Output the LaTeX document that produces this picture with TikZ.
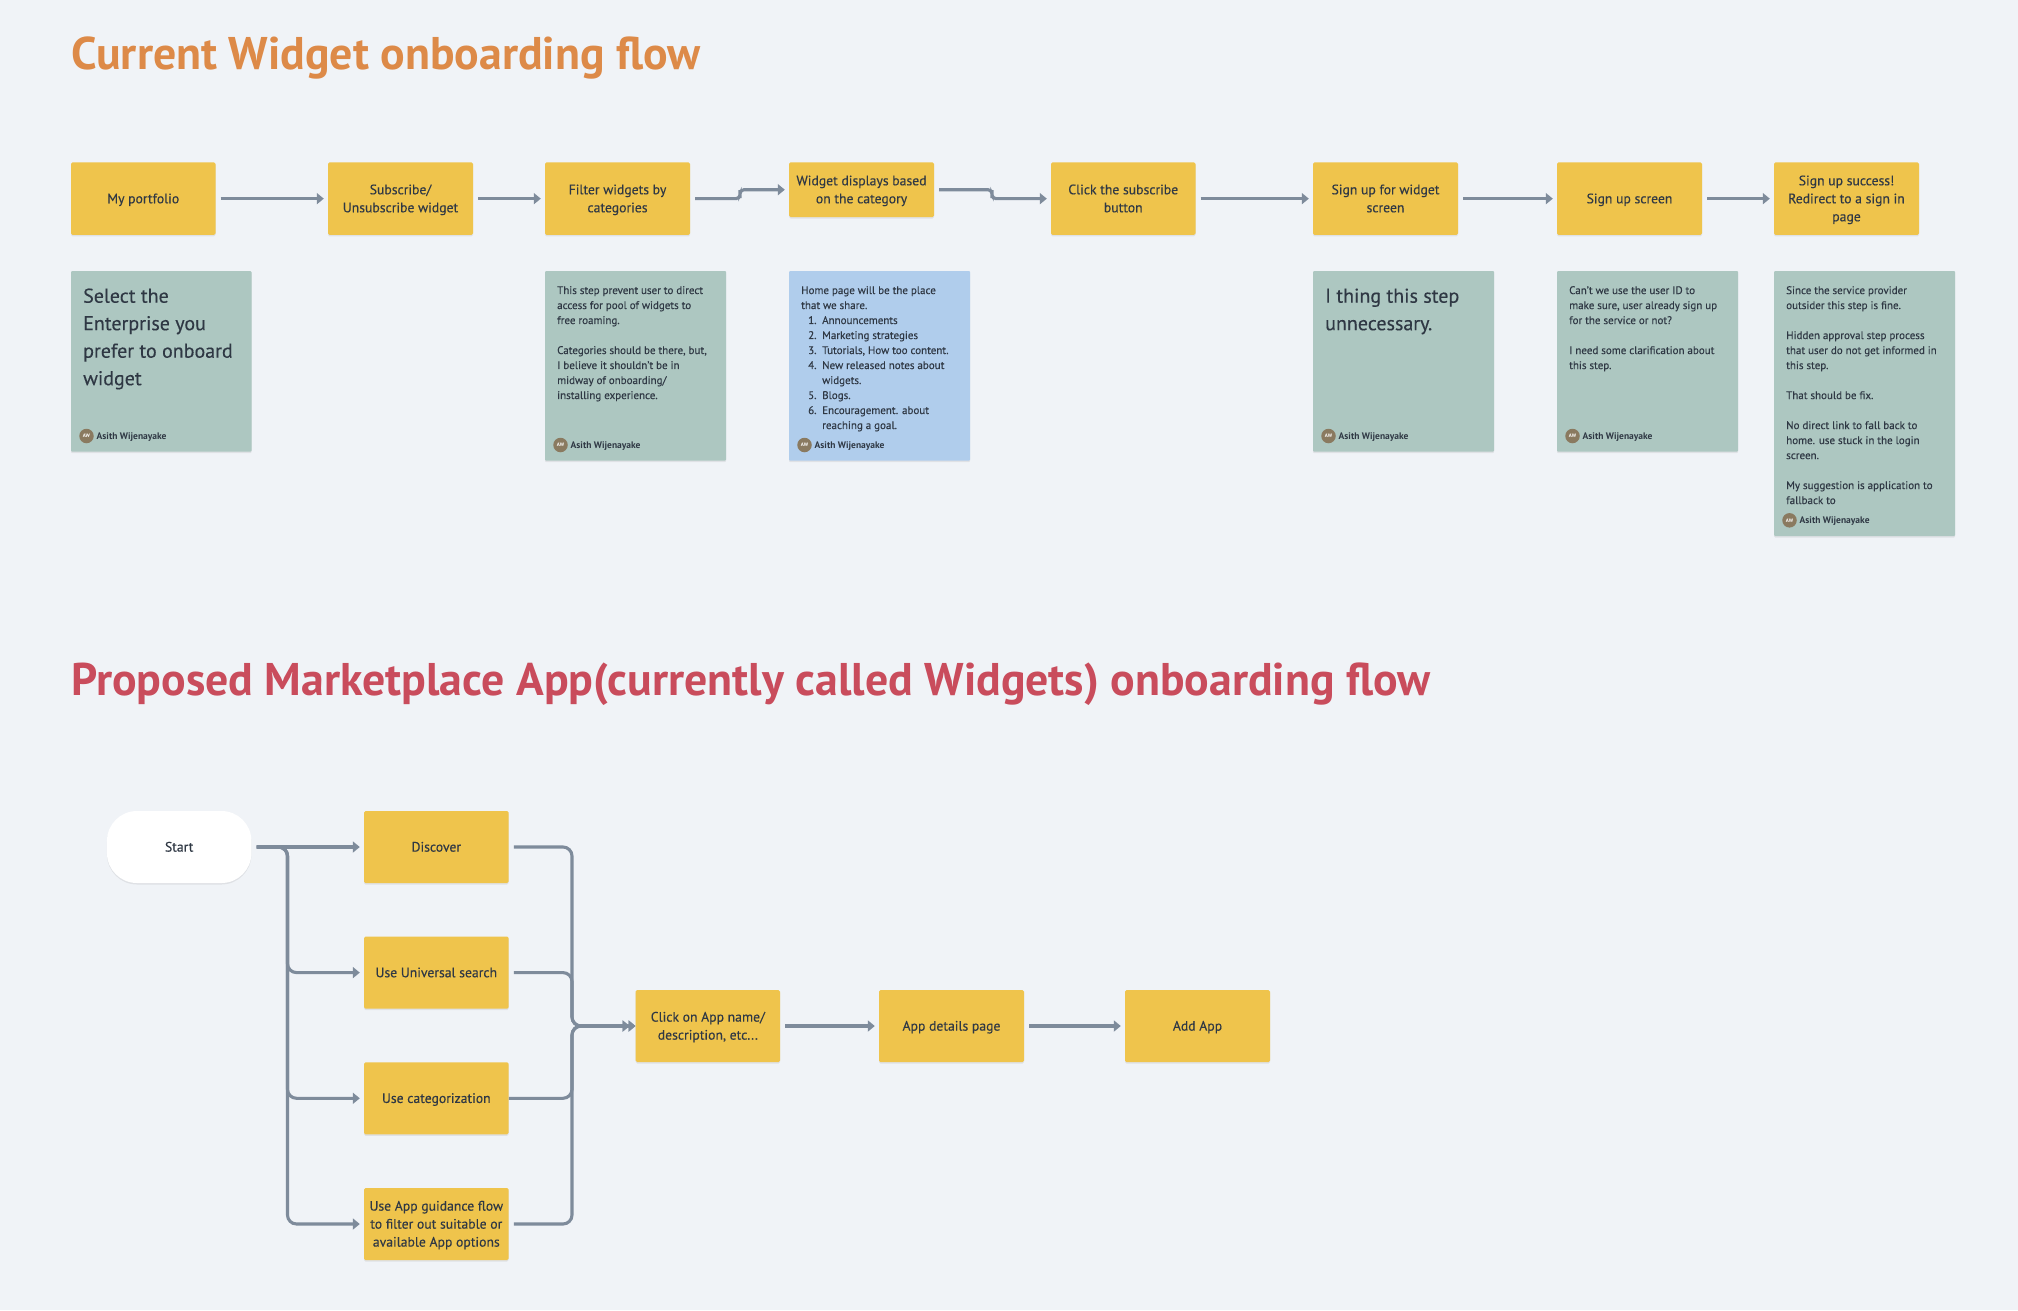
\documentclass[tikz,border=0pt]{standalone}
\usepackage{fontspec}
\setmainfont[UprightFeatures={FakeBold=0.25}]{PT Sans}
\usetikzlibrary{arrows.meta,shadows,calc}
\definecolor{bgc}{HTML}{F0F3F7}
\definecolor{yel}{HTML}{EFC44C}
\definecolor{grn}{HTML}{ADC7C1}
\definecolor{blu}{HTML}{B0CDEC}
\definecolor{ttlo}{HTML}{DD8A48}
\definecolor{ttlr}{HTML}{C94C5C}
\definecolor{ink}{HTML}{2F3844}
\definecolor{lin}{HTML}{7E8B9B}
\definecolor{ava}{HTML}{8A7A60}
\tikzset{
  softshadow/.style={drop shadow={shadow xshift=0pt,shadow yshift=-1.5pt,opacity=.07,fill=black}},
  stepbox/.style={fill=yel,rounded corners=1.5pt,inner sep=2pt,align=center,text=ink,softshadow,
    font=\fontsize{13.7}{18}\selectfont},
  startbox/.style={fill=white,rounded corners=30pt,inner sep=2pt,align=center,text=ink,softshadow,
    font=\fontsize{13.7}{18}\selectfont},
  notebox/.style={rounded corners=1pt,inner sep=0pt,softshadow},
  smalltxt/.style={anchor=north west,inner sep=0pt,align=left,text=ink,
    font=\fontsize{11}{15}\selectfont},
  bigtxt/.style={anchor=north west,inner sep=0pt,align=left,text=ink,
    font=\fontsize{20}{27.5}\selectfont},
  author/.style={anchor=west,inner sep=0pt,text=ink,font=\fontsize{9.5}{12}\selectfont\bfseries},
  avatar/.style={circle,fill=ava,inner sep=0pt,minimum size=14.5pt,text=white,font=\fontsize{5}{5}\selectfont\bfseries},
  heading/.style={anchor=base west,inner sep=0pt,font=\fontsize{45.8}{50}\selectfont\bfseries},
  flow/.style={draw=lin,line width=3.1pt,-{Triangle[length=7pt,width=11pt]},shorten <=5pt,shorten >=4pt,rounded corners=9pt},
  sflow/.style={flow,rounded corners=4pt}
}
\newcommand{\bx}[6]{\node[stepbox,minimum width={#4-#2},minimum height={#5-#3}] (#1) at ({(#2+#4)/2},{(#3+#5)/2}) {\rule{0pt}{12.4pt}#6\rule[-3.2pt]{0pt}{1pt}};}
\newcommand{\card}[6]{%
  \node[notebox,fill=#6,minimum width={#4-#2},minimum height={#5-#3}] (#1) at ({(#2+#4)/2},{(#3+#5)/2}) {};
  \node[avatar] (#1av) at ({#2+15.5},{#5-15.7}) {AW};
  \node[author] (#1au) at ({#2+25.5},{#5-14.4}) {Asith Wijenayake};
}
\newcommand{\li}[2]{\hspace*{7pt}\makebox[14pt][l]{#1}#2}
\begin{document}
\begin{tikzpicture}[x=1pt,y=-1pt]
\useasboundingbox (0,0) rectangle (2018,1310);
\fill[bgc] (0,0) rectangle (2018,1310);

\node[heading,text=ttlo] (t1) at (71,69) {Current Widget onboarding flow};
\node[heading,text=ttlr] (t2) at (71,695) {Proposed Marketplace App(currently called Widgets) onboarding flow};

% top row
\bx{a}{71}{162.4}{215.5}{234.9}{My portfolio}
\bx{b}{328}{162.4}{473}{234.9}{Subscribe/\\Unsubscribe widget}
\bx{c}{545}{162.4}{690}{234.9}{Filter widgets by\\categories}
\bx{d}{789}{162.4}{934}{217}{Widget displays based\\on the category}
\bx{e}{1051}{162.4}{1195.5}{234.9}{Click the subscribe\\button}
\bx{f}{1313}{162.4}{1458}{234.9}{Sign up for widget\\screen}
\bx{g}{1557}{162.4}{1702}{234.9}{Sign up screen}
\bx{h}{1774}{162.4}{1919}{234.9}{Sign up success!\\Redirect to a sign in\\page}

\coordinate (s1) at (740,194);
\coordinate (s2) at (992,194);
\draw[flow] (a.east) -- (b.west);
\draw[flow] (b.east) -- (c.west);
\draw[sflow] (c.east) -| (s1) |- (d.west);
\draw[sflow] (d.east) -| (s2) |- (e.west);
\draw[flow] (e.east) -- (f.west);
\draw[flow] (f.east) -- (g.west);
\draw[flow] (g.east) -- (h.west);

% notes
\card{n1}{71}{271}{251.5}{451.7}{grn}
\node[bigtxt] (n1t) at (83,286.5) {\rule{0pt}{16pt}Select the\\Enterprise you\\prefer to onboard\\widget};
\card{n2}{545}{271}{726}{460.7}{grn}
\node[smalltxt] (n2t) at (557,286) {This step prevent user to direct\\access for pool of widgets to\\free roaming.\\\mbox{}\\Categories should be there, but,\\I believe it shouldn't be in\\midway of onboarding/\\installing experience.};
\card{n3}{789}{271}{970}{460.7}{blu}
\node[smalltxt] (n3t) at (801,286) {Home page will be the place\\that we share.\\
\li{1.}{Announcements}\\\li{2.}{Marketing strategies}\\\li{3.}{Tutorials, How too content.}\\\li{4.}{New released notes about}\\\li{}{widgets.}\\\li{5.}{Blogs.}\\\li{6.}{Encouragement. about}\\\li{}{reaching a goal.}};
\card{n4}{1313}{271}{1494}{451.7}{grn}
\node[bigtxt] (n4t) at (1325,286.5) {\rule{0pt}{16pt}I thing this step\\unnecessary.};
\card{n5}{1557}{271}{1738}{451.7}{grn}
\node[smalltxt] (n5t) at (1569,286) {Can't we use the user ID to\\make sure, user already sign up\\for the service or not?\\\mbox{}\\I need some clarification about\\this step.};
\card{n6}{1774}{271}{1955}{536}{grn}
\node[smalltxt] (n6t) at (1786,286) {Since the service provider\\outsider this step is fine.\\\mbox{}\\Hidden approval step process\\that user do not get informed in\\this step.\\\mbox{}\\That should be fix.\\\mbox{}\\No direct link to fall back to\\home. use stuck in the login\\screen.\\\mbox{}\\My suggestion is application to\\fallback to};

% lower flow
\node[startbox,minimum width=144.5,minimum height=72] (st) at (179.2,847) {\rule{0pt}{12.4pt}Start\rule[-3.2pt]{0pt}{1pt}};
\bx{dis}{364}{811}{508.6}{883}{Discover}
\bx{uni}{364}{936.5}{508.6}{1008.7}{Use Universal search}
\bx{cat}{364}{1062.3}{508.6}{1134.3}{Use categorization}
\bx{gui}{364}{1188}{508.6}{1260}{Use App guidance flow\\to filter out suitable or\\available App options}
\bx{cli}{635.7}{990}{780}{1062}{Click on App name/\\description, etc...}
\bx{det}{879}{990}{1024}{1062}{App details page}
\bx{add}{1125}{990}{1270}{1062}{Add App}

\coordinate (busL) at (287.5,900);
\coordinate (busR) at (572,1026);
\draw[flow] (st.east) -- (dis.west);
\draw[flow] (st.east) -| (busL) |- (uni.west);
\draw[flow] (st.east) -| (busL) |- (cat.west);
\draw[flow] (st.east) -| (busL) |- (gui.west);
\draw[flow,shorten >=6pt] (dis.east) -| (busR) -- (cli.west);
\draw[flow,shorten >=0pt] (uni.east) -| (busR) -- (cli.west);
\draw[flow,shorten <=0pt,shorten >=6pt] (cat.east) -| (busR) -- (cli.west);
\draw[flow,shorten >=0pt] (gui.east) -| (busR) -- (cli.west);
\draw[flow] (cli.east) -- (det.west);
\draw[flow] (det.east) -- (add.west);
\end{tikzpicture}
\end{document}
